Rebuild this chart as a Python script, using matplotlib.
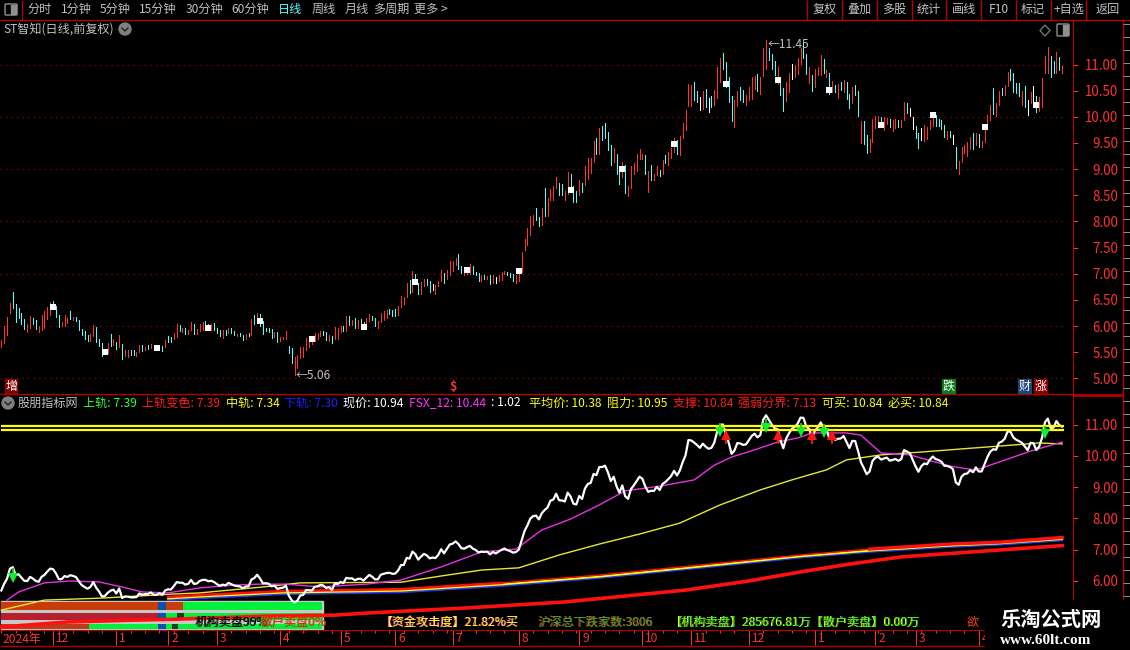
import matplotlib
matplotlib.use("Agg")
import matplotlib.pyplot as plt
import numpy as np
from matplotlib.patches import Rectangle, Circle, Polygon, FancyBboxPatch
from matplotlib.ticker import MultipleLocator

plt.rcParams["font.family"] = ["Noto Sans CJK SC", "DejaVu Sans"]

low = [
    5.60, 5.68, 5.83, 6.26, 6.35, 6.08, 6.16, 6.04, 5.95, 5.89,
    5.97, 6.04, 5.95, 5.89, 5.93, 5.97, 6.14, 6.22, 6.33, 6.18,
    5.99, 6.01, 6.01, 6.06, 6.14, 6.12, 6.10, 5.93, 5.83, 5.76,
    5.72, 5.72, 5.81, 5.70, 5.62, 5.43, 5.47, 5.49, 5.62, 5.64,
    5.56, 5.60, 5.37, 5.43, 5.41, 5.45, 5.45, 5.43, 5.51, 5.53,
    5.54, 5.56, 5.58, 5.54, 5.54, 5.54, 5.53, 5.60, 5.70, 5.70,
    5.76, 5.79, 5.91, 5.89, 5.85, 5.85, 5.93, 5.85, 5.85, 5.91,
    5.93, 6.01, 5.97, 5.93, 5.93, 5.87, 5.81, 5.78, 5.83, 5.87,
    5.87, 5.83, 5.81, 5.81, 5.74, 5.76, 5.81, 5.83, 6.04, 6.06,
    6.01, 5.85, 5.91, 5.89, 5.78, 5.80, 5.69, 5.71, 5.75, 5.75,
    5.49, 5.30, 5.06, 5.20, 5.40, 5.42, 5.55, 5.61, 5.65, 5.71,
    5.76, 5.82, 5.84, 5.73, 5.71, 5.67, 5.76, 5.76, 5.88, 5.90,
    5.90, 6.03, 6.03, 5.97, 5.97, 6.05, 5.99, 6.01, 6.09, 6.11,
    6.01, 5.97, 6.07, 6.11, 6.15, 6.24, 6.20, 6.20, 6.22, 6.36,
    6.43, 6.55, 6.64, 6.66, 6.80, 6.62, 6.62, 6.76, 6.78, 6.66,
    6.70, 6.62, 6.76, 6.87, 6.83, 6.91, 6.97, 7.06, 7.16, 7.10,
    7.01, 6.97, 6.99, 6.99, 6.99, 6.97, 6.87, 6.87, 6.91, 6.91,
    6.80, 6.82, 6.83, 6.87, 6.89, 6.99, 6.97, 6.93, 6.87, 6.82,
    6.87, 7.04, 7.46, 7.56, 7.75, 7.94, 8.02, 7.92, 7.94, 8.11,
    8.11, 8.42, 8.42, 8.64, 8.51, 8.51, 8.42, 8.53, 8.61, 8.38,
    8.38, 8.51, 8.57, 8.70, 8.82, 8.93, 9.14, 9.29, 9.29, 9.56,
    9.60, 9.37, 9.08, 9.14, 8.91, 8.72, 8.85, 8.55, 8.49, 8.64,
    8.91, 8.97, 9.20, 9.20, 8.91, 8.57, 8.80, 8.80, 8.89, 8.87,
    8.91, 9.12, 9.08, 9.22, 9.33, 9.29, 9.27, 9.60, 9.75, 10.21,
    10.21, 10.32, 10.28, 10.13, 10.15, 10.19, 10.09, 10.19, 10.22, 10.36,
    10.66, 10.91, 10.57, 10.28, 9.92, 9.81, 10.21, 10.32, 10.28, 10.23,
    10.32, 10.34, 10.53, 10.49, 10.44, 10.78, 10.91, 11.08, 10.91, 10.80,
    10.62, 10.41, 10.11, 10.30, 10.47, 10.72, 10.76, 10.82, 11.01, 11.12,
    10.82, 10.64, 10.49, 10.57, 10.80, 10.80, 10.83, 10.76, 10.43, 10.47,
    10.47, 10.36, 10.51, 10.47, 10.34, 10.17, 10.26, 10.41, 10.01, 9.50,
    9.48, 9.31, 9.33, 9.52, 9.78, 9.89, 9.83, 9.74, 9.87, 9.80,
    9.72, 9.78, 9.80, 9.80, 9.93, 10.08, 10.01, 9.76, 9.59, 9.40,
    9.55, 9.53, 9.57, 9.76, 9.83, 9.83, 9.83, 9.76, 9.61, 9.57,
    9.61, 9.49, 9.03, 8.90, 9.13, 9.30, 9.26, 9.38, 9.38, 9.47,
    9.42, 9.43, 9.51, 9.80, 9.93, 10.06, 10.01, 10.22, 10.41, 10.41,
    10.58, 10.71, 10.48, 10.46, 10.39, 10.22, 10.18, 10.03, 10.27, 10.23,
    10.10, 10.12, 10.18, 10.83, 10.83, 10.77, 10.83, 10.83, 10.90, 10.83,
]
high = [
    5.74, 6.01, 6.18, 6.45, 6.66, 6.43, 6.35, 6.26, 6.14, 6.04,
    6.20, 6.16, 6.12, 6.01, 6.22, 6.29, 6.37, 6.47, 6.49, 6.39,
    6.22, 6.08, 6.22, 6.16, 6.29, 6.18, 6.18, 6.12, 5.95, 5.91,
    5.83, 5.85, 6.03, 5.99, 5.76, 5.68, 5.54, 5.68, 5.85, 5.76,
    5.70, 5.83, 5.66, 5.54, 5.54, 5.54, 5.54, 5.51, 5.64, 5.64,
    5.60, 5.64, 5.66, 5.62, 5.60, 5.64, 5.62, 5.74, 5.81, 5.79,
    5.87, 6.04, 6.03, 5.97, 5.97, 5.93, 6.08, 6.04, 5.95, 6.04,
    6.08, 6.10, 6.04, 6.04, 6.06, 5.97, 5.93, 5.93, 5.93, 5.97,
    5.97, 5.91, 5.85, 5.87, 5.83, 5.85, 5.87, 6.14, 6.22, 6.26,
    6.24, 6.10, 5.97, 5.97, 5.94, 5.88, 5.88, 5.80, 5.80, 5.90,
    5.63, 5.59, 5.42, 5.45, 5.60, 5.61, 5.78, 5.75, 5.71, 5.86,
    5.86, 5.90, 5.90, 5.88, 5.84, 5.82, 5.99, 5.96, 6.01, 6.01,
    6.19, 6.20, 6.11, 6.15, 6.11, 6.13, 6.07, 6.15, 6.24, 6.19,
    6.15, 6.09, 6.26, 6.28, 6.30, 6.32, 6.30, 6.32, 6.38, 6.57,
    6.55, 6.82, 6.89, 7.06, 6.99, 6.83, 6.85, 6.91, 6.91, 6.87,
    6.80, 6.78, 6.87, 7.08, 7.01, 7.08, 7.25, 7.25, 7.31, 7.37,
    7.14, 7.06, 7.12, 7.18, 7.14, 7.04, 7.01, 6.97, 6.97, 6.95,
    6.97, 6.97, 6.93, 6.97, 7.04, 7.06, 7.03, 7.01, 6.99, 6.97,
    7.06, 7.41, 7.66, 7.87, 8.10, 8.13, 8.25, 8.08, 8.26, 8.64,
    8.45, 8.63, 8.68, 8.85, 8.74, 8.72, 8.59, 8.95, 8.91, 8.68,
    8.59, 8.80, 8.74, 9.06, 9.22, 9.22, 9.54, 9.60, 9.79, 9.83,
    9.88, 9.71, 9.46, 9.41, 9.29, 9.06, 9.14, 9.08, 8.68, 9.06,
    9.12, 9.29, 9.39, 9.29, 9.27, 8.97, 9.08, 8.91, 9.06, 8.99,
    9.18, 9.27, 9.33, 9.41, 9.60, 9.56, 9.64, 9.88, 10.13, 10.63,
    10.61, 10.66, 10.49, 10.38, 10.49, 10.53, 10.36, 10.40, 10.51, 10.95,
    11.12, 11.22, 11.04, 10.76, 10.40, 10.32, 10.49, 10.57, 10.51, 10.42,
    10.57, 10.76, 10.78, 10.82, 10.76, 11.31, 11.46, 11.31, 11.20, 11.06,
    10.95, 10.70, 10.55, 10.66, 10.83, 11.01, 10.99, 11.12, 11.31, 11.43,
    11.20, 10.95, 10.80, 10.91, 10.95, 11.18, 11.10, 10.89, 10.83, 10.68,
    10.61, 10.62, 10.66, 10.70, 10.66, 10.43, 10.57, 10.61, 10.49, 9.92,
    9.92, 9.65, 9.57, 9.96, 10.01, 10.01, 9.99, 9.99, 9.97, 9.95,
    9.93, 9.95, 9.93, 9.93, 10.29, 10.27, 10.16, 9.99, 9.83, 9.70,
    9.78, 9.85, 9.80, 9.93, 10.04, 10.04, 9.95, 9.93, 9.85, 9.72,
    9.72, 9.66, 9.43, 9.15, 9.42, 9.47, 9.51, 9.61, 9.70, 9.70,
    9.68, 9.53, 9.82, 10.03, 10.22, 10.56, 10.27, 10.50, 10.56, 10.60,
    10.86, 10.92, 10.84, 10.64, 10.65, 10.50, 10.58, 10.33, 10.48, 10.58,
    10.39, 10.37, 10.75, 11.17, 11.34, 11.17, 11.07, 11.23, 11.15, 10.98,
]
bar_kind = (
    "RRRRCCCCCR" "RCCRRRRRCC" "CRRRCRCCCC" "CRRCCCRRCR" "CRCRRCCRRC"
    "RCRCCRCRCC" "RRCRCRRCRR" "RCCRCCCRCR" "CCRCCRCRCR" "CCCCCRCRRR"
    "CCRRRRRRRR" "RRCCRCRRRC" "RCRCRCCRRC" "CRRRRCCCRR" "RRCRCCRRCC"
    "WRRRCRRRRC" "CRRRCCCRCR" "CRWRRRCCCR" "RRRRRRCCRC" "RRRRCCRRCC"
    "CRCRRRRCRC" "CCCRCCRCRR" "RRRRCRCRRC" "RCRRRCRRRR" "RCCWRCWCRR"
    "RCCCCRRCCR" "RRRCRRRCCC" "RCCRRWRRRC" "CRCRRRCRCR" "CRCRCCRCCR"
    "CCRRRRCRRC" "RRCRRCWWCC" "WRRRRCCCCR" "CWCRRRRRCR" "CRRRRCRRCR"
    "RCCCCRCWRW" "CRRRRCCRCR"
)

# white squares on the bars
square_idx = [18, 36, 54, 72, 90, 108, 126, 144, 162, 180,
              198, 216, 234, 252, 270, 288, 306, 324, 342, 360]
square_val = [6.37, 5.51, 5.58, 5.97, 6.10, 5.75, 5.99, 6.85, 7.08, 7.06,
              8.61, 9.01, 9.48, 10.63, 10.70, 10.52, 9.85, 10.03, 9.80, 10.22]

# lower pane lines
fsx_idx = [2, 6, 15, 24, 34, 42, 49, 58, 69, 81, 90, 99, 111, 127, 139, 153, 167, 179, 188,
           198, 208, 217, 229, 241, 248, 254, 262, 270, 277, 282, 294, 299, 306, 316, 330,
           339, 347, 358, 369]
fsx_val = [5.39, 5.65, 5.94, 6.00, 5.97, 5.81, 5.65, 5.62, 5.78, 5.87, 5.90, 5.90, 5.81, 5.90,
           6.03, 6.45, 6.93, 7.02, 7.63, 7.98, 8.43, 8.88, 9.03, 9.23, 9.70, 9.96, 10.19,
           10.44, 10.57, 10.73, 10.73, 10.66, 10.09, 10.03, 9.67, 9.54, 9.80, 10.15, 10.44]
avg_idx = [0, 15, 34, 42, 59, 69, 90, 104, 139, 153, 167, 180, 194, 208, 222, 236, 250, 264,
           275, 287, 294, 306, 320, 334, 347, 361, 369]
avg_val = [5.07, 5.39, 5.45, 5.49, 5.58, 5.62, 5.80, 5.94, 5.96, 6.16, 6.35, 6.42, 6.83, 7.18,
           7.50, 7.85, 8.43, 8.91, 9.23, 9.55, 9.87, 10.03, 10.12, 10.22, 10.31, 10.41, 10.38]
band_idx = [58, 69, 98, 139, 174, 208, 243, 278, 302, 330, 347, 369]
band_up = [5.49, 5.55, 5.68, 5.74, 5.94, 6.19, 6.51, 6.83, 7.02, 7.18, 7.24, 7.39]
band_mid = [5.44, 5.50, 5.63, 5.69, 5.89, 6.14, 6.46, 6.79, 6.97, 7.13, 7.20, 7.34]
band_dn = [5.39, 5.45, 5.58, 5.64, 5.84, 6.10, 6.42, 6.75, 6.93, 7.09, 7.16, 7.30]
split_idx = [0, 23, 46, 61, 93, 116, 128, 162, 196, 238, 260, 278, 295, 313, 347, 369]
split_val = [4.53, 4.69, 4.75, 4.78, 4.88, 4.91, 4.98, 5.14, 5.33, 5.71, 6.00, 6.29, 6.54,
             6.77, 6.99, 7.13]
resist = 10.95
support = 10.84

# buy / sell arrows in the lower pane
sell_idx = [4, 250, 266, 278, 286, 363]
sell_top = [6.42, 11.05, 11.17, 11.05, 11.02, 10.95]
sell_tip = [6.00, 10.66, 10.79, 10.66, 10.62, 10.60]
buy_idx = [252, 270, 282, 289]
buy_tip = [10.76, 10.76, 10.76, 10.76]
buy_end = [10.38, 10.38, 10.38, 10.38]

# month ticks
month_idx = [18, 40, 58, 75, 97, 118, 137, 157, 180, 201, 223, 240, 260, 283, 304, 318, 340]
month_lab = ["12", "1", "2", "3", "4", "5", "6", "7", "8", "9", "10", "11", "12", "1", "2", "3", "4"]

price_ticks = [5.0, 5.5, 6.0, 6.5, 7.0, 7.5, 8.0, 8.5, 9.0, 9.5, 10.0, 10.5, 11.0]
lower_ticks = [6.0, 7.0, 8.0, 9.0, 10.0, 11.0]

# stacked block bottom left: (left idx, right idx, colour) per row
block_rows = [
    (5.32, 5.07, [(0, 54.5, "#c83c0a"), (54.5, 57.3, "#0a50b4"), (57.3, 63.2, "#c83c0a"), (63.2, 111.5, "#00f03c")]),
    (4.99, 4.75, [(0, 54.5, "#b42030"), (54.5, 57.3, "#0a50b4"), (57.3, 61, "#00f03c"), (61, 63.5, "#1e3c1e"), (63.5, 111.5, "#00f03c")]),
    (4.64, 4.47, [(0, 30.5, "#be3c1e"), (30.5, 54.5, "#00f03c"), (54.5, 57.3, "#0a50b4"), (57.3, 59.4, "#00f03c"), (59.4, 61.5, "#1e3c1e"), (61.5, 111.5, "#00f03c")]),
]

RED = "#ff3232"
LINE_RED = "#b40000"
CYAN = "#54ffff"
GREY = "#c0c0c0"

low = np.array(low)
high = np.array(high)
kind = np.array(list(bar_kind))
idx = np.arange(len(low))
# the white line runs a bit inside the bar ends, not right on the high/low
close = np.where(kind == "R", high - 0.3 * (high - low),
                 np.where(kind == "C", low + 0.3 * (high - low), (low + high) / 2))
colours = np.where(kind == "R", RED, np.where(kind == "C", CYAN, "#ffffff"))

fig = plt.figure(figsize=(11.3, 6.5), dpi=100, facecolor="black")


def px_rect(left, top, right, bottom):
    return [left / 1130, 1 - bottom / 650, (right - left) / 1130, (bottom - top) / 650]


# bar i sits at 1.3 + i*2.875 px, so the axes edges at 0 and 1073 px become:
xlim = (-1.3 / 2.875, (1073 - 1.3) / 2.875)

ax = fig.add_axes(px_rect(0, 20, 1073, 394), facecolor="black")
ax.set_xlim(xlim)
ax.set_ylim(11 - (394 - 64.5) / 52.33, 11 + 44.5 / 52.33)
ax.vlines(idx, low, high, colors=colours, linewidth=0.5, antialiased=False, zorder=3)
ax.plot(square_idx, square_val, "s", color="white", markersize=4.2, markeredgewidth=0, zorder=4)
ax.set_yticks(price_ticks)
ax.set_yticklabels([f"{v:.2f}" for v in price_ticks])
ax.hlines(price_ticks[::2], xlim[0], 369.5, colors=LINE_RED, linestyles=(0, (1, 4)), linewidth=0.8, zorder=1)
ax.set_xticks([])
ax.text(102.5, 5.06, "←5.06", color=GREY, fontsize=8.6, va="center", ha="left", zorder=5)
ax.text(266.5, 11.38, "←11.45", color=GREY, fontsize=8.6, va="center", ha="left", zorder=5)

low_ax = fig.add_axes(px_rect(0, 394, 1073, 630), facecolor="black")
low_ax.set_xlim(xlim)
low_ax.set_ylim(11 - 205.5 / 31.3, 11 + 30.5 / 31.3)

low_ax.add_patch(Rectangle((0, 4.43), 111.8, 0.93, color="#c8c8c8", zorder=1))
for top, bottom, parts in block_rows:
    for left, right, col in parts:
        low_ax.barh(bottom, right - left, height=top - bottom, left=left, align="edge", color=col, zorder=2)
low_ax.barh(4.64, 47, height=0.11, left=0, align="edge", color="#c8c8c8", zorder=2)

low_ax.plot(band_idx, band_dn, color="#1e3cff", linewidth=1.4, zorder=3)
low_ax.plot(band_idx, band_mid, color="#ffff00", linewidth=1.4, zorder=3)
# the top band line is heavy at both ends and thin through the middle
low_ax.plot(band_idx[:5], band_up[:5], color="#ff1010", linewidth=1.8, zorder=3)
low_ax.plot(band_idx[4:9], band_up[4:9], color="#ff1010", linewidth=1.0, zorder=3)
low_ax.plot(band_idx[8:], band_up[8:], color="#ff1010", linewidth=2.4, zorder=3)
low_ax.plot(split_idx, split_val, color="#ff1010", linewidth=2.6, zorder=3)
low_ax.plot(avg_idx, avg_val, color="#e6e632", linewidth=1.0, zorder=3)
low_ax.plot(fsx_idx, fsx_val, color="#e632e6", linewidth=1.0, zorder=3)
low_ax.plot(idx, close, color="white", linewidth=1.6, zorder=4)
low_ax.hlines([resist, support], 0, 369.5, colors="#ffff00", linewidth=1.6, zorder=5)

low_ax.vlines(sell_idx, sell_top, sell_tip, colors="#10d010", linewidth=1.3, zorder=6)
low_ax.plot(sell_idx, np.array(sell_tip) + 0.11, "v", color="#10f030", markersize=7.5, markeredgewidth=0, zorder=6)
low_ax.vlines(buy_idx, buy_tip, buy_end, colors="#ff1414", linewidth=1.3, zorder=6)
low_ax.plot(buy_idx, np.array(buy_tip) - 0.11, "^", color="#ff1414", markersize=7.5, markeredgewidth=0, zorder=6)

low_ax.set_yticks(lower_ticks)
low_ax.set_yticklabels([f"{v:.2f}" for v in lower_ticks])
low_ax.set_xticks(month_idx)
low_ax.set_xticklabels([])
low_ax.xaxis.set_minor_locator(MultipleLocator(5))
low_ax.tick_params(axis="x", which="major", color=RED, length=11, width=0.7)
low_ax.tick_params(axis="x", which="minor", color=RED, length=2.5, width=0.7)
for i, lab in zip(month_idx, month_lab):
    low_ax.annotate(lab, (i, 0), xycoords=("data", "axes fraction"), xytext=(3, -8),
                    textcoords="offset pixels", color=RED, fontsize=8.6, va="center", ha="left",
                    annotation_clip=False)

for a in (ax, low_ax):
    for side in ("left", "top", "bottom", "right"):
        a.spines[side].set_visible(False)
    a.spines["right"].set_visible(True)
    a.spines["right"].set_color(LINE_RED)
    a.yaxis.tick_right()
    a.tick_params(axis="y", colors=RED, color=RED, length=3.6, width=0.8, pad=29, labelsize=9.6)
    for lab in a.get_yticklabels():
        lab.set_horizontalalignment("right")
low_ax.spines["bottom"].set_visible(True)
low_ax.spines["bottom"].set_color(LINE_RED)

# everything that is screen furniture goes on a px overlay
ui = fig.add_axes([0, 0, 1, 1], zorder=5)
ui.set_xlim(0, 1130)
ui.set_ylim(650, 0)
ui.axis("off")
ui.patch.set_visible(False)


def label(x, y, s, color=GREY, size=8.7, ha="left", **kw):
    ui.text(x, y, s, color=color, fontsize=size, ha=ha, va="center", **kw)


ui.hlines(19.5, 0, 1130, colors=LINE_RED, linewidth=1)
ui.hlines(394, 0, 1073, colors=LINE_RED, linewidth=1)
ui.hlines(395, 1073, 1123, colors=LINE_RED, linewidth=2)
ui.hlines(646, 0, 985, colors=LINE_RED, linewidth=1)
ui.vlines(22, 0, 19.5, colors=LINE_RED, linewidth=1)
ui.vlines(1123, 20, 600, colors=LINE_RED, linewidth=1)
ui.vlines([807, 842, 877, 912, 946, 981, 1016, 1051, 1086], 0, 19.5, colors=LINE_RED, linewidth=1)
ui.hlines(np.arange(24, 600, 13), 1123, 1130, colors="#909090", linewidth=0.7)

for x, s, col in zip([40, 76, 115, 158, 204, 250, 290, 324, 357, 391, 431],
                     ["分时", "1分钟", "5分钟", "15分钟", "30分钟", "60分钟", "日线", "周线", "月线", "多周期", "更多 >"],
                     [GREY] * 6 + [CYAN] + [GREY] * 4):
    label(x, 9.5, s, color=col, ha="center")
for x, s in zip([825, 859, 894, 929, 964, 999, 1033, 1069, 1108],
                ["复权", "叠加", "多股", "统计", "画线", "F10", "标记", "+自选", "返回"]):
    label(x, 9.5, s, ha="center")

ui.add_patch(FancyBboxPatch((6, 5), 10, 9, boxstyle="round,pad=1", fc="none", ec="#909090", lw=1))
ui.add_patch(Rectangle((11, 5), 5, 9, color="#909090"))
ui.add_patch(FancyBboxPatch((1058, 25), 10, 10, boxstyle="round,pad=1", fc="none", ec="#909090", lw=1))
ui.add_patch(Rectangle((1063, 25), 5, 10, color="#909090"))
ui.add_patch(Polygon([(1045, 25), (1050, 30.5), (1045, 36), (1040, 30.5)], fc="none", ec="#707070", lw=1))

label(3, 29, "ST智知(日线,前复权)")
for x, y in [(125, 29), (8, 403)]:
    ui.add_patch(Circle((x, y), 6, color="#808080"))
    ui.plot([x - 3, x, x + 3], [y - 1, y + 2, y - 1], color="#202020", linewidth=1)

# signal tags above the lower pane
for x, s, bg in [(11.5, "增", "#8c0000"), (949, "跌", "#0a7a1e"), (1025, "财", "#1e4678"), (1041, "涨", "#8c0000")]:
    ui.text(x, 386.5, s, color="white", fontsize=8.7, ha="center", va="center",
            bbox=dict(boxstyle="square,pad=0.05", fc=bg, ec="none"))
label(453, 386.5, "$", color=RED, size=9, ha="center", fontweight="bold")

head_x = [18, 83, 142, 226, 284, 343, 409, 491, 529, 607, 673, 738, 822, 888]
head_txt = ["股朋指标网", "上轨: 7.39", "上轨变色: 7.39", "中轨: 7.34", "下轨: 7.30", "现价: 10.94", "FSX_12: 10.44",
            ": 1.02", "平均价: 10.38", "阻力: 10.95", "支撑: 10.84", "强弱分界: 7.13", "可买: 10.84", "必买: 10.84"]
head_col = [GREY, "#32ff32", "#ff1e1e", "#ffff00", "#1e1eff", "white", "#ff32ff",
            "white", "#ffff00", "#ffff00", "#ff1e1e", "#ff1e1e", "#ffff00", "#ffff00"]
for x, s, col in zip(head_x, head_txt, head_col):
    label(x, 403, s, color=col)

# the overlapping status text along the bottom
label(195, 622, "机构卖盘96%", color="#103010")
label(196, 622.5, "机构卖盘99%", color="black")
label(260, 622, "散户卖盘0%", color="#00e000")
label(261, 622.5, "散户卖盘0%", color="#ff1010")
label(380, 622, "【资金攻击度】27.82%买", color="#ff40ff")
label(381, 622, "【资金攻击度】21.82%买", color="#ffff00")
label(538, 622, "沪深总下跌家数:3006", color="#ff4010")
label(539, 622, "沪深总下跌家数:3806", color="#10c040", alpha=0.8)
label(670, 622, "【机构卖盘】285676.81万【散户卖盘】0.00万", color="#ffff00")
label(671, 622, "【机构卖盘】285675.81万【散户卖盘】0.00万", color="#10e040", alpha=0.85)
label(967, 622, "欲", color="#ff4010")

label(2, 639, "2024年", color=RED)
ui.add_patch(Rectangle((985, 600), 145, 50, color="black", zorder=8))
label(1000, 619, "乐淘公式网", color="white", size=14.6, fontweight="bold", zorder=9)
label(1000, 640, "www.60lt.com", color="white", size=11, family="Liberation Serif", fontweight="bold", zorder=9)

plt.savefig("out.png", dpi=100, facecolor="black")
